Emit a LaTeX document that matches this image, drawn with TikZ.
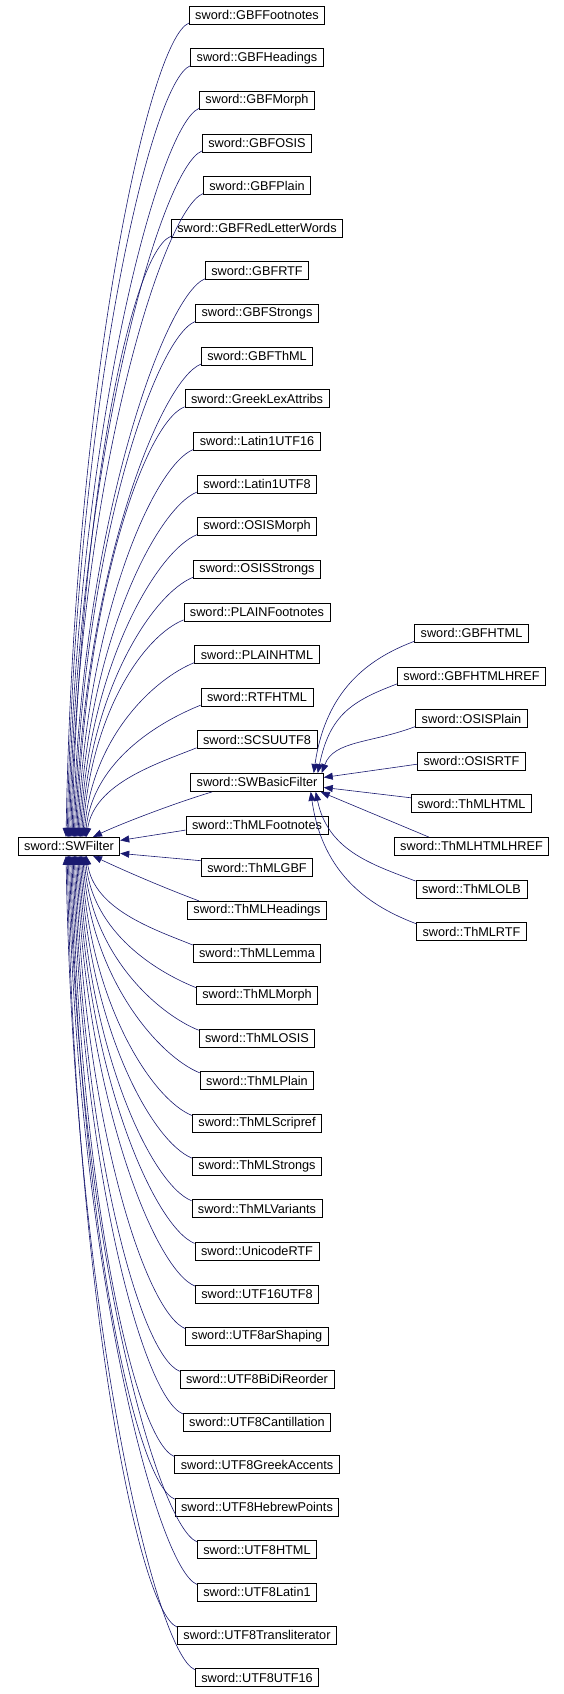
\documentclass[tikz,border=0pt]{standalone}
\usepackage{fontspec}
\setmainfont{Liberation Sans}
\usepackage{tikz}
\usetikzlibrary{
    arrows.meta,
    calc
}
\definecolor{edgeblue}{HTML}{191970}

\begin{document}
\begin{tikzpicture}[x=1pt,y=-1pt,
    classbox/.style={draw,line width=0.8pt,inner xsep=6pt,inner ysep=0pt,
        minimum height=18pt,font=\fontsize{12.7}{14}\selectfont},
    inherit/.style={draw=edgeblue,line width=0.6pt,
        -{Triangle[length=9pt,width=7pt]},fill=none}]

\useasboundingbox (0,0) rectangle (564,1694);

% Base class
\node[classbox] (swfilter) at (69,846.4) {sword::SWFilter};

% Derived classes, left column
\foreach \nm/\txt [count=\k from 0] in {gbffootnotes/GBFFootnotes,
    gbfheadings/GBFHeadings, gbfmorph/GBFMorph, gbfosis/GBFOSIS,
    gbfplain/GBFPlain, gbfredletterwords/GBFRedLetterWords, gbfrtf/GBFRTF,
    gbfstrongs/GBFStrongs, gbfthml/GBFThML, greeklexattribs/GreekLexAttribs,
    latin1utf16/Latin1UTF16, latin1utf8/Latin1UTF8, osismorph/OSISMorph,
    osisstrongs/OSISStrongs, plainfootnotes/PLAINFootnotes,
    plainhtml/PLAINHTML, rtfhtml/RTFHTML, scsuutf8/SCSUUTF8,
    swbasicfilter/SWBasicFilter, thmlfootnotes/ThMLFootnotes,
    thmlgbf/ThMLGBF, thmlheadings/ThMLHeadings, thmllemma/ThMLLemma,
    thmlmorph/ThMLMorph, thmlosis/ThMLOSIS, thmlplain/ThMLPlain,
    thmlscripref/ThMLScripref, thmlstrongs/ThMLStrongs,
    thmlvariants/ThMLVariants, unicodertf/UnicodeRTF, utf16utf8/UTF16UTF8,
    utf8arshaping/UTF8arShaping, utf8bidireorder/UTF8BiDiReorder,
    utf8cantillation/UTF8Cantillation, utf8greekaccents/UTF8GreekAccents,
    utf8hebrewpoints/UTF8HebrewPoints, utf8html/UTF8HTML,
    utf8latin1/UTF8Latin1, utf8transliterator/UTF8Transliterator,
    utf8utf16/UTF8UTF16}
{
\node[classbox] (\nm) at (257,{15.1+42.63*\k}) {sword::\txt};
}

% Derived classes of SWBasicFilter
\foreach \nm/\txt [count=\k from 0] in {gbfhtml/GBFHTML,
    gbfhtmlhref/GBFHTMLHREF, osisplain/OSISPlain, osisrtf/OSISRTF,
    thmlhtml/ThMLHTML, thmlhtmlhref/ThMLHTMLHREF, thmlolb/ThMLOLB,
    thmlrtf/ThMLRTF}
{
\node[classbox] (\nm) at (471.5,{633.3+42.63*\k}) {sword::\txt};
}

% Edges from above into SWFilter
\foreach \nm [count=\k from 0] in {gbffootnotes, gbfheadings, gbfmorph,
    gbfosis, gbfplain, gbfredletterwords, gbfrtf, gbfstrongs, gbfthml,
    greeklexattribs, latin1utf16, latin1utf8, osismorph, osisstrongs,
    plainfootnotes, plainhtml, rtfhtml, scsuutf8}
{
\coordinate (tip) at ($(swfilter.north)+({-3+1.2*\k},0)$);
\coordinate (mid) at ($(\nm.west)!0.45!(tip)$);
\draw[inherit] ($(\nm.west)+(0,8)$) .. controls ($(\nm.west)+(-40,24)$)
    and ($(tip |- mid)+(8,0)$) .. (tip);
}

% Edges from below into SWFilter
\foreach \nm [count=\k from 22] in {thmllemma, thmlmorph, thmlosis,
    thmlplain, thmlscripref, thmlstrongs, thmlvariants, unicodertf,
    utf16utf8, utf8arshaping, utf8bidireorder, utf8cantillation,
    utf8greekaccents, utf8hebrewpoints, utf8html, utf8latin1,
    utf8transliterator, utf8utf16}
{
\coordinate (tip) at ($(swfilter.south)+({-3+1.2*(39-\k)},0)$);
\coordinate (mid) at ($(\nm.west)!0.45!(tip)$);
\draw[inherit] ($(\nm.west)+(0,-8)$) .. controls ($(\nm.west)+(-40,-24)$)
    and ($(tip |- mid)+(8,0)$) .. (tip);
}

% Short edges near SWFilter
\draw[inherit] ($(swbasicfilter.south west)+(22,0)$) .. controls +(-40,12)
    and +(25,-12) .. ($(swfilter.north)+(24,0)$);
\draw[inherit] ($(thmlfootnotes.west)+(0,5)$) -- ($(swfilter.east)+(0,-6)$);
\draw[inherit] ($(thmlgbf.west)+(0,-7)$) -- ($(swfilter.east)+(0,7)$);
\draw[inherit] ($(thmlheadings.north west)+(12,0)$) .. controls +(-40,-15)
    and +(25,12) .. ($(swfilter.south)+(24,0)$);

% Edges into SWBasicFilter
\foreach \nm/\dx [count=\k from 0] in {gbfhtml/-10, gbfhtmlhref/-6, osisplain/-2}
{
\coordinate (tip) at ($(swbasicfilter.north east)+(\dx,0)$);
\coordinate (mid) at ($(\nm.west)!0.4!(tip)$);
\draw[inherit] ($(\nm.west)+(0,8)$) .. controls ($(\nm.west)+(-45,25)$)
    and ($(tip |- mid)+(12,0)$) .. (tip);
}
\foreach \nm/\dx in {thmlolb/-8, thmlrtf/-13}
{
\coordinate (tip) at ($(swbasicfilter.south east)+(\dx,0)$);
\coordinate (mid) at ($(\nm.west)!0.4!(tip)$);
\draw[inherit] ($(\nm.west)+(0,-8)$) .. controls ($(\nm.west)+(-45,-25)$)
    and ($(tip |- mid)+(12,0)$) .. (tip);
}
\draw[inherit] ($(osisrtf.west)+(0,3)$) -- ($(swbasicfilter.east)+(0,-5)$);
\draw[inherit] ($(thmlhtml.west)+(0,-6)$) -- ($(swbasicfilter.east)+(0,5)$);
\draw[inherit] ($(thmlhtmlhref.north west)+(35,0)$) -- ($(swbasicfilter.south east)+(-3,0)$);

\end{tikzpicture}
\end{document}
